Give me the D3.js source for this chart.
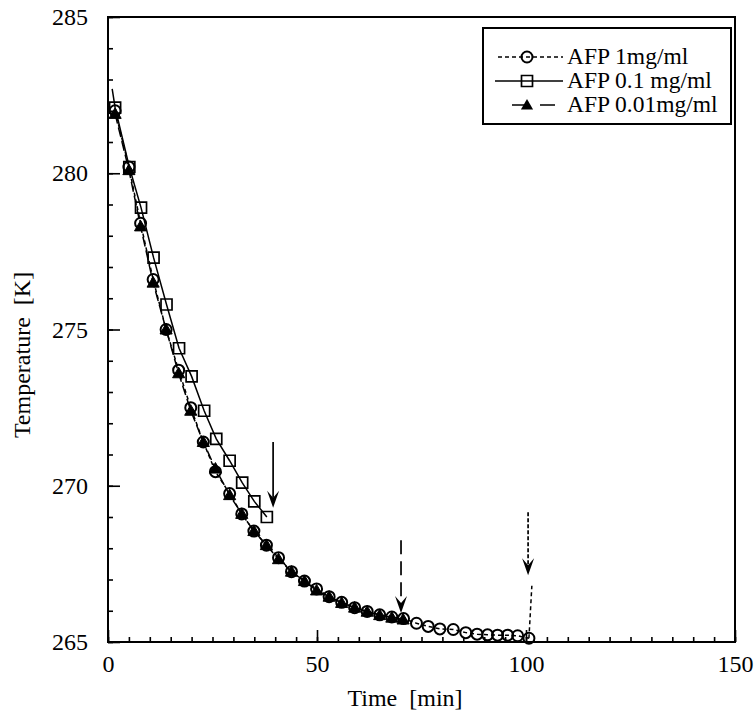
<!DOCTYPE html>
<html>
<head>
<meta charset="utf-8">
<script src="https://cdn.jsdelivr.net/npm/d3@7"></script>
<style>
body { margin: 0; background: #fff; }
svg { display: block; }
text { font-family: "Liberation Serif", "Times New Roman", serif; fill: #000; }
</style>
</head>
<body>
<svg id="chart" width="755" height="715"></svg>
<script>
// AFP 1mg/ml  (open circles, short dashes)
var time1 = [1.7, 5.0, 7.8, 10.8, 13.9, 16.9, 19.8, 22.8, 25.7, 29.1, 32.0, 34.9, 37.9, 40.8, 43.9, 47.0, 49.9, 52.9, 55.9, 59.0, 62.0, 65.0, 67.9, 70.7, 73.8, 76.6, 79.4, 82.6, 85.6, 88.3, 90.8, 93.2, 95.6, 98.0, 100.7];
var temp1 = [282.0, 280.2, 278.4, 276.6, 275.0, 273.7, 272.5, 271.4, 270.45, 269.75, 269.1, 268.55, 268.1, 267.7, 267.25, 266.95, 266.7, 266.45, 266.27, 266.1, 265.98, 265.87, 265.8, 265.75, 265.6, 265.5, 265.42, 265.4, 265.3, 265.25, 265.23, 265.22, 265.22, 265.2, 265.12];
// release of latent heat after freezing
var spikeTime = [100.7, 101.4];
var spikeTemp = [265.12, 266.8];

// AFP 0.1 mg/ml  (open squares, solid)
var time2 = [1.0, 1.7, 5.1, 7.9, 10.9, 14.0, 17.0, 20.0, 23.0, 25.9, 29.1, 32.1, 35.0, 38.0];
var temp2 = [282.7, 282.1, 280.2, 278.9, 277.3, 275.8, 274.4, 273.5, 272.4, 271.5, 270.8, 270.1, 269.5, 269.0];

// AFP 0.01mg/ml  (filled triangles, long dashes)
var time3 = [1.7, 5.0, 7.8, 10.8, 13.9, 16.9, 19.8, 22.8, 25.7, 29.1, 32.0, 34.9, 37.9, 40.8, 43.9, 47.0, 49.9, 52.9, 55.9, 59.0, 62.0, 65.0, 67.9, 70.6];
var temp3 = [281.9, 280.1, 278.3, 276.5, 275.0, 273.6, 272.4, 271.4, 270.55, 269.7, 269.1, 268.55, 268.1, 267.65, 267.25, 266.95, 266.65, 266.45, 266.25, 266.1, 265.97, 265.86, 265.78, 265.72];

// freezing onset arrows
var arrowTime = [39.5, 70.1, 100.5];
var arrowTop = [271.4, 268.26, 269.15];
var arrowTip = [269.3, 265.93, 267.14];

var seriesNames = ["AFP 1mg/ml", "AFP 0.1 mg/ml", "AFP 0.01mg/ml"];
var xTicks = [0, 50, 100, 150];
var yTicks = [265, 270, 275, 280, 285];

var svg = d3.select("#chart");
var x = d3.scaleLinear().domain([0, 150]).range([108, 735]);
var y = d3.scaleLinear().domain([265, 285]).range([642, 17]);

var dash1 = "4,3", dash3 = "10,4";

// frame
svg.append("rect")
    .attr("x", 108).attr("y", 17)
    .attr("width", 627).attr("height", 625)
    .attr("fill", "none").attr("stroke", "#000").attr("stroke-width", 2);

// minor + major ticks, inside
var gx = svg.append("g").attr("transform", "translate(0,642)");
gx.call(d3.axisBottom(x).tickValues(d3.range(0, 151, 5)).tickSize(-5).tickFormat(""));
var gx2 = svg.append("g").attr("transform", "translate(0,642)");
gx2.call(d3.axisBottom(x).tickValues(xTicks).tickSize(-12).tickPadding(13).tickFormat(d3.format("d")));

var gy = svg.append("g").attr("transform", "translate(108,0)");
gy.call(d3.axisLeft(y).tickValues(d3.range(265, 286, 1)).tickSize(-5).tickFormat(""));
var gy2 = svg.append("g").attr("transform", "translate(108,0)");
gy2.call(d3.axisLeft(y).tickValues(yTicks).tickSize(-12).tickPadding(20).tickFormat(d3.format("d")));

svg.selectAll(".domain").remove();
svg.selectAll(".tick line").attr("stroke", "#000").attr("stroke-width", 1.6);
svg.selectAll(".tick text").attr("font-size", 24).attr("font-family", "Liberation Serif").attr("fill", "#000");

// axis titles
svg.append("text").attr("x", 405).attr("y", 706).attr("text-anchor", "middle")
    .attr("font-size", 24).text("Time\u00a0 [min]");
svg.append("text").attr("transform", "translate(30,355) rotate(-90)")
    .attr("text-anchor", "middle").attr("font-size", 24).text("Temperature\u00a0 [K]");

function pts(ts, vs) { return ts.map(function(t, i) { return [t, vs[i]]; }); }
var line = d3.line().x(function(d) { return x(d[0]); }).y(function(d) { return y(d[1]); });

var d1 = pts(time1, temp1), d2 = pts(time2, temp2), d3p = pts(time3, temp3);

svg.append("path").attr("d", line(d1)).attr("fill", "none").attr("stroke", "#000")
    .attr("stroke-width", 1.5).attr("stroke-dasharray", dash1);
svg.append("path").attr("d", line(pts(spikeTime, spikeTemp))).attr("fill", "none").attr("stroke", "#000")
    .attr("stroke-width", 1.5).attr("stroke-dasharray", dash1);
svg.append("path").attr("d", line(d2)).attr("fill", "none").attr("stroke", "#000")
    .attr("stroke-width", 1.5);
svg.append("path").attr("d", line(d3p)).attr("fill", "none").attr("stroke", "#000")
    .attr("stroke-width", 1.5).attr("stroke-dasharray", dash3);

// markers
svg.append("g").selectAll("circle").data(d1).enter().append("circle")
    .attr("cx", function(d) { return x(d[0]); })
    .attr("cy", function(d) { return y(d[1]); })
    .attr("r", 5.5).attr("fill", "none").attr("stroke", "#000").attr("stroke-width", 2);

var tri = d3.symbol().type(d3.symbolTriangle).size(64);
svg.append("g").selectAll("path").data(d3p).enter().append("path")
    .attr("d", tri)
    .attr("transform", function(d) { return "translate(" + x(d[0]) + "," + (y(d[1]) + 1) + ")"; })
    .attr("fill", "#000").attr("stroke", "#000").attr("stroke-width", 1);

var sq = d3.symbol().type(d3.symbolSquare).size(121);
svg.append("g").selectAll("path").data(d2.slice(1)).enter().append("path")
    .attr("d", sq)
    .attr("transform", function(d) { return "translate(" + x(d[0]) + "," + y(d[1]) + ")"; })
    .attr("fill", "none").attr("stroke", "#000").attr("stroke-width", 1.7);

// arrows
var arrowDash = [null, "14,7", "4,2"];
arrowTime.forEach(function(t, i) {
    var ax = x(t), tip = y(arrowTip[i]);
    svg.append("line").attr("x1", ax).attr("x2", ax)
        .attr("y1", y(arrowTop[i])).attr("y2", tip - 10)
        .attr("stroke", "#000").attr("stroke-width", 1.7)
        .attr("stroke-dasharray", arrowDash[i]);
    svg.append("path")
        .attr("d", "M0,0 L-6,-17 L0,-10 L6,-17 Z")
        .attr("transform", "translate(" + ax + "," + tip + ")")
        .attr("fill", "#000");
});

// legend
var lg = svg.append("g");
lg.append("rect").attr("x", 483).attr("y", 28).attr("width", 248).attr("height", 96)
    .attr("fill", "#fff").attr("stroke", "#000").attr("stroke-width", 2);
var rowY = [57, 81, 105];
lg.append("line").attr("x1", 498).attr("x2", 563).attr("y1", rowY[0]).attr("y2", rowY[0])
    .attr("stroke", "#000").attr("stroke-width", 1.5).attr("stroke-dasharray", dash1);
lg.append("circle").attr("cx", 527).attr("cy", rowY[0]).attr("r", 5.5)
    .attr("fill", "none").attr("stroke", "#000").attr("stroke-width", 2);
lg.append("line").attr("x1", 495).attr("x2", 563).attr("y1", rowY[1]).attr("y2", rowY[1])
    .attr("stroke", "#000").attr("stroke-width", 1.5);
lg.append("path").attr("d", sq).attr("transform", "translate(527," + rowY[1] + ")")
    .attr("fill", "none").attr("stroke", "#000").attr("stroke-width", 1.7);
lg.append("line").attr("x1", 512).attr("x2", 558).attr("y1", rowY[2]).attr("y2", rowY[2])
    .attr("stroke", "#000").attr("stroke-width", 1.5).attr("stroke-dasharray", "15,13");
lg.append("path").attr("d", tri).attr("transform", "translate(527," + (rowY[2] + 1) + ")")
    .attr("fill", "#000");
lg.selectAll("text.lab").data(seriesNames).enter().append("text")
    .attr("x", 567).attr("y", function(d, i) { return rowY[i] + 7; })
    .attr("font-size", 23.5).text(function(d) { return d; });
</script>
</body>
</html>
